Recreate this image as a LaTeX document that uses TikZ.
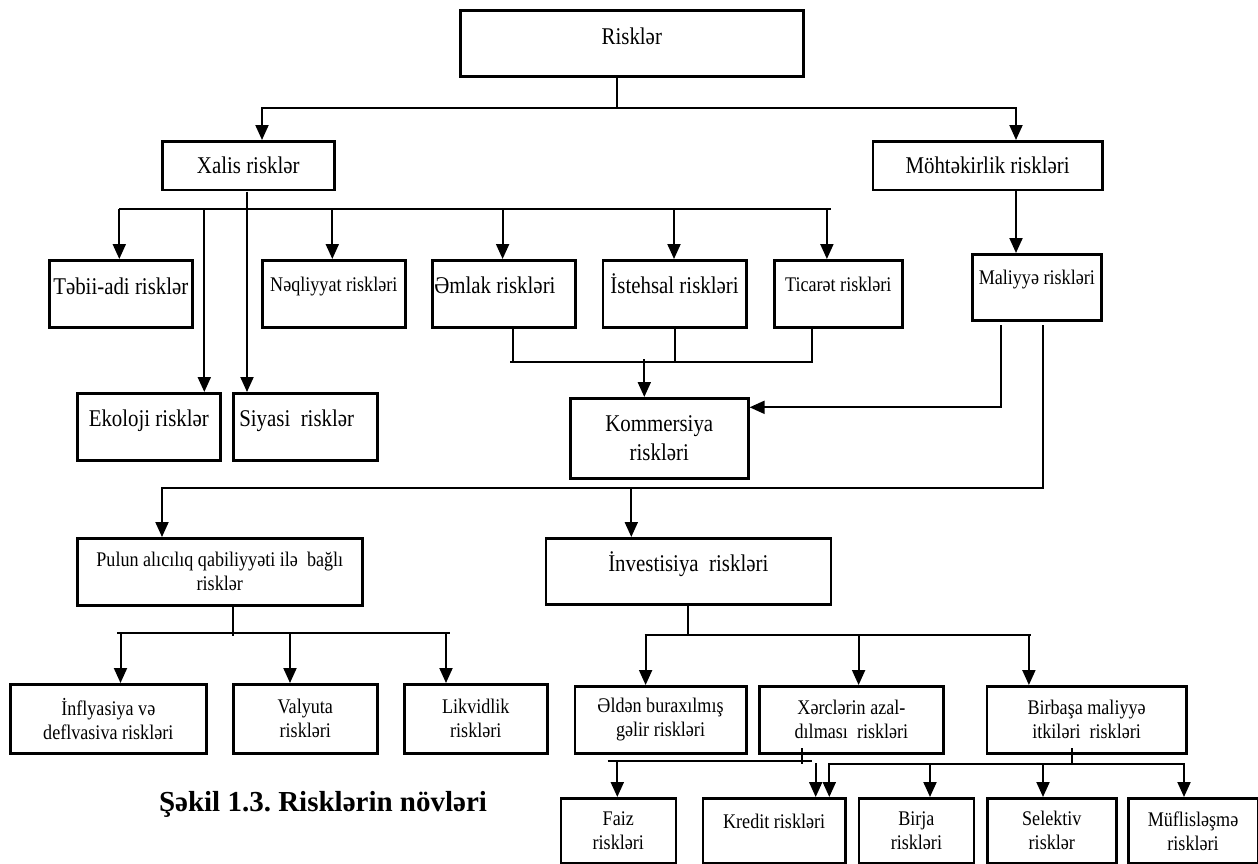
\documentclass[tikz,border=0pt]{standalone}
\usepackage{fontspec}
\setmainfont{Liberation Serif}[FakeStretch=0.87]
\newfontfamily\capfont{Liberation Serif}
\usetikzlibrary{arrows.meta}
\frenchspacing
\begin{document}
\begin{tikzpicture}[x=0.5pt,y=-0.5pt,
  bx/.style={draw, line width=1.3pt, inner sep=0pt, anchor=north west},
  bigt/.style={font=\fontsize{12}{14.5}\selectfont},
  smt/.style={font=\fontsize{10.4}{12}\selectfont},
  ln/.style={line width=1pt, line join=miter},
  arr/.style={ln, -{Triangle[length=7.5pt,width=6.5pt]}},
  arrb/.style={ln, {Triangle[length=7.5pt,width=6.5pt]}-{Triangle[length=7.5pt,width=6.5pt]}}]
\useasboundingbox (0,0) rectangle (1258,863);

% ---------- boxes ----------
\node[bx,bigt,minimum width=171.5pt,text height=17pt,text depth=16pt] (risk) at (459,9) {Risklər};
\node[bx,bigt,minimum width=86pt,minimum height=24.25pt] (xalis) at (161,140) {Xalis risklər};
\node[bx,bigt,minimum width=114.75pt,minimum height=24.25pt] (moht) at (871.5,140) {Möhtəkirlik riskləri};

\node[bx,bigt,minimum width=71.5pt,text height=17pt,text depth=16.5pt] (tebii) at (48,259) {Təbii-adi risklər};
\node[bx,smt,minimum width=71.5pt,text height=15.5pt,text depth=18pt] (neql) at (261,259) {Nəqliyyat riskləri};
\node[bx,bigt,minimum width=71.5pt,text height=16.5pt,text depth=17pt] (emlak) at (431,259) {\makebox[69.5pt][l]{Əmlak riskləri}};
\node[bx,bigt,minimum width=71.75pt,text height=16.5pt,text depth=17pt] (isteh) at (601.5,259) {İstehsal riskləri};
\node[bx,smt,minimum width=64pt,text height=15.5pt,text depth=18pt] (ticar) at (773,259) {Ticarət riskləri};
\node[bx,smt,minimum width=64.5pt,text height=15pt,text depth=18pt] (maliy) at (971,253) {Maliyyə riskləri};

\node[bx,bigt,minimum width=71.5pt,text height=16.5pt,text depth=17pt] (ekol) at (76,392) {Ekoloji risklər};
\node[bx,bigt,minimum width=72pt,text height=16.5pt,text depth=17pt] (siyas) at (232,392) {\makebox[66pt][l]{Siyasi\ \ risklər}};
\node[bx,bigt,align=center,minimum width=89pt,minimum height=40pt] (komm) at (569,397) {Kommersiya\\riskləri};

\node[bx,smt,align=center,minimum width=142.5pt,minimum height=33.5pt] (pulun) at (76,537) {Pulun alıcılıq qabiliyyəti ilə\ \ bağlı\\risklər};
\node[bx,bigt,minimum width=142.5pt,text height=16.5pt,text depth=16.5pt] (invest) at (544.5,537) {İnvestisiya\ \ riskləri};

\node[bx,smt,align=center,minimum width=98pt,minimum height=34.5pt] (infl) at (9,683) {İnflyasiya və\\deflvasiva riskləri};
\node[bx,smt,align=center,minimum width=72pt,minimum height=34.5pt] (valy) at (232,683) {Valyuta\\riskləri};
\node[bx,smt,align=center,minimum width=71.5pt,minimum height=34.5pt] (likv) at (403,683) {Likvidlik\\riskləri};

\node[bx,smt,align=center,minimum width=85.75pt,minimum height=33.5pt] (elden) at (573.5,685) {Əldən buraxılmış\\gəlir riskləri};
\node[bx,smt,align=center,minimum width=91.85pt,minimum height=33.5pt] (xercl) at (758.3,685) {Xərclərin azal-\\dılması\ \ riskləri};
\node[bx,smt,align=center,minimum width=99.7pt,minimum height=33.5pt] (birba) at (985.6,685) {Birbaşa maliyyə\\itkiləri\ \ riskləri};

\node[bx,smt,align=center,minimum width=57.5pt,minimum height=32.5pt] (faiz) at (559.5,797) {Faiz\\riskləri};
\node[bx,smt,minimum width=71.15pt,text height=15pt,text depth=17.5pt] (kred) at (701.7,797) {Kredit riskləri};
\node[bx,smt,align=center,minimum width=57.4pt,minimum height=32.5pt] (birja) at (857.7,797) {Birja\\riskləri};
\node[bx,smt,align=center,minimum width=64.5pt,minimum height=32.5pt] (selek) at (986,797) {Selektiv\\risklər};
\node[bx,smt,align=center,minimum width=64.75pt,minimum height=32.5pt] (mufl) at (1127,797) {Müflisləşmə\\riskləri};

\node[anchor=base,inner sep=0pt,font=\capfont\bfseries\fontsize{14.5}{17}\selectfont] (cap) at (323,811.7) {Şəkil 1.3. Risklərin növləri};

% ---------- connectors ----------
% Risklər
\coordinate (j1) at (617,108);
\coordinate (jl) at (262,108);
\coordinate (jr) at (1016,108);
\draw[ln] (risk.south -| j1) -- (j1);
\draw[arrb] (jl |- xalis.north) -- (jl) -- (jr) -- (jr |- moht.north);

% Xalis risklər
\coordinate (h1) at (119.3,208.7);
\coordinate (h2) at (831,208.7);
\coordinate (e1) at (204.3,208.7);
\coordinate (n1) at (332.3,208.7);
\coordinate (o1) at (502.6,208.7);
\coordinate (s1) at (674,208.7);
\coordinate (t1) at (826.9,208.7);
\coordinate (xs) at (247,191.7);
\draw[ln] (h1) -- (h2);
\draw[arr] (h1) -- (h1 |- tebii.north);
\draw[arr] (e1) -- (e1 |- ekol.north);
\draw[arr] (xs) -- (xs |- siyas.north);
\draw[arr] (n1) -- (n1 |- neql.north);
\draw[arr] (o1) -- (o1 |- emlak.north);
\draw[arr] (s1) -- (s1 |- isteh.north);
\draw[arr] (t1) -- (t1 |- ticar.north);

% Möhtəkirlik -> Maliyyə
\draw[arr] (moht.south -| jr) -- (maliy.north -| jr);

% Əmlak, İstehsal, Ticarət -> Kommersiya
\coordinate (ka) at (513.3,329);
\coordinate (kb) at (513.3,362.3);
\coordinate (kc) at (675,362.3);
\coordinate (kd) at (812.3,329);
\coordinate (ke) at (812.3,363.3);
\coordinate (kl) at (510,362.3);
\coordinate (kr) at (811.7,362.3);
\coordinate (kk) at (644.3,359.3);
\draw[ln] (ka) -- (kb);
\draw[ln] (isteh.south -| kc) -- (kc);
\draw[ln] (kd) -- (ke);
\draw[ln] (kl) -- (kr);
\draw[arr] (kk) -- (kk |- komm.north);

% Maliyyə
\coordinate (m1) at (1000.7,325);
\coordinate (m1b) at (1000.7,407.3);
\coordinate (m2) at (1042.7,325);
\coordinate (mb) at (1042.7,488.3);
\coordinate (pa) at (162,488.3);
\coordinate (ia) at (631.3,488.3);
\draw[arr] (m1) -- (m1b) -- (m1b -| komm.east);
\draw[arr] (m2) -- (mb) -- (pa) -- (pa |- pulun.north);
\draw[arr] (ia) -- (ia |- invest.north);

% Pulun
\coordinate (p0) at (233,636);
\coordinate (pl) at (117.3,633);
\coordinate (pr) at (450,633);
\coordinate (pa1) at (120.5,633);
\coordinate (pa2) at (290,633);
\coordinate (pa3) at (446,633);
\draw[ln] (pulun.south -| p0) -- (p0);
\draw[ln] (pl) -- (pr);
\draw[arr] (pa1) -- (pa1 |- infl.north);
\draw[arr] (pa2) -- (pa2 |- valy.north);
\draw[arr] (pa3) -- (pa3 |- likv.north);

% İnvestisiya
\coordinate (v0) at (688.4,635);
\coordinate (vl) at (644.7,635);
\coordinate (vr) at (1031,635);
\coordinate (va1) at (645.6,635);
\coordinate (va2) at (858.6,635);
\coordinate (va3) at (1028.9,635);
\draw[ln] (invest.south -| v0) -- (v0);
\draw[ln] (vl) -- (vr);
\draw[arr] (va1) -- (va1 |- elden.north);
\draw[arr] (va2) -- (va2 |- xercl.north);
\draw[arr] (va3) -- (va3 |- birba.north);

% Xərclərin
\coordinate (x0) at (801.7,748);
\coordinate (x1) at (801.7,764);
\coordinate (fl) at (607.7,760.7);
\coordinate (fr) at (811.7,760.7);
\coordinate (fa) at (617.3,760.7);
\coordinate (ka2) at (815.7,763);
\draw[ln] (x0) -- (x1);
\draw[ln] (fl) -- (fr);
\draw[arr] (fa) -- (fa |- faiz.north);
\draw[arr] (ka2) -- (ka2 |- kred.north);

% Birbaşa
\coordinate (b0) at (1071.7,748);
\coordinate (b1) at (1071.7,763.5);
\coordinate (bl) at (829.3,763.5);
\coordinate (br) at (1184,763.5);
\coordinate (bj) at (930,763.5);
\coordinate (bs) at (1043,763.5);
\draw[ln] (b0) -- (b1);
\draw[arrb] (bl |- kred.north) -- (bl) -- (br) -- (br |- mufl.north);
\draw[arr] (bj) -- (bj |- birja.north);
\draw[arr] (bs) -- (bs |- selek.north);
\end{tikzpicture}
\end{document}
